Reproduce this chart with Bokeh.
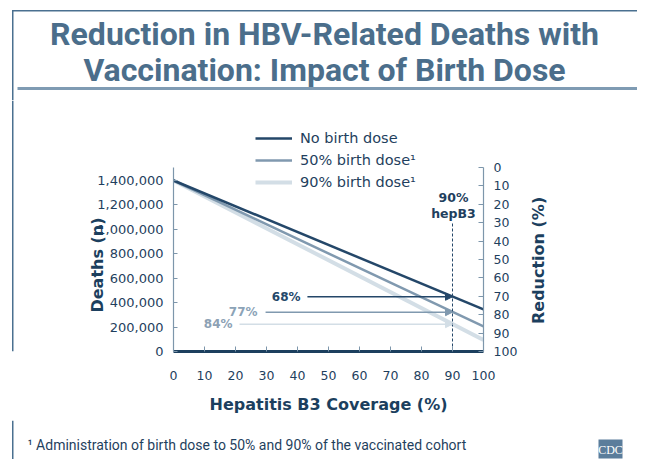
from bokeh.plotting import figure
from bokeh.layouts import column, row
from bokeh.models import (Range1d, LinearAxis, FixedTicker, NumeralTickFormatter, Label,
                          Legend, LegendItem, Arrow, NormalHead, BoxAnnotation, Span)
from bokeh.embed import file_html
from bokeh.resources import INLINE

# ---------------- data ----------------
coverage = [0, 100]                       # Hepatitis B3 coverage (%)
deaths_no_birth = [1400000, 345000]
deaths_50_birth = [1400000, 205000]
deaths_90_birth = [1400000, 95000]
series_labels = ["No birth dose", "50% birth dose\u00b9", "90% birth dose\u00b9"]
reduction_at_90 = [68, 77, 84]            # % reduction at 90% hepB3
reduction_labels = ["68%", "77%", "84%"]
marked_coverage = 90
x_ticks = [0, 10, 20, 30, 40, 50, 60, 70, 80, 90, 100]
death_ticks = [0, 200000, 400000, 600000, 800000, 1000000, 1200000, 1400000]
reduction_ticks = [0, 10, 20, 30, 40, 50, 60, 70, 80, 90, 100]
baseline = deaths_no_birth[0]
title_lines = ["Reduction in HBV-Related Deaths with", "Vaccination: Impact of Birth Dose"]
footnote = "\u00b9 Administration of birth dose to 50% and 90% of the vaccinated cohort"

DARK = "#244769"
MED = "#8099af"
LIGHT = "#d3dee6"
TEXT = "#1f3f5e"
AXIS = "#7d96ab"
TITLE = "#4b6e8b"
BORDER = "#4a7090"
RULE = "#7f9bb3"

W = 637
HEAD_H = 100
MID_H = 320
FOOT_H = 459 - HEAD_H - MID_H
LEFT_W = 80
RIGHT_W = 107
MAIN_W = W - LEFT_W - RIGHT_W


def deco_fig(w, h, x0, y0):
    f = figure(width=w, height=h, x_range=Range1d(x0, x0 + w), y_range=Range1d(y0 + h, y0),
               output_backend="svg", toolbar_location=None,
               x_axis_location=None, y_axis_location=None,
               min_border=0, min_border_left=0, min_border_right=0,
               min_border_top=0, min_border_bottom=0)
    f.title = None
    f.outline_line_color = None
    f.grid.visible = False
    f.background_fill_color = "white"
    f.border_fill_color = "white"
    return f


def bar(f, l, r, t, b, c):
    f.add_layout(BoxAnnotation(left=l, right=r, top=t, bottom=b, fill_color=c,
                               fill_alpha=1, line_color=None))


# ---------------- header ----------------
head = deco_fig(W, HEAD_H, 0, 0)
bar(head, 12, W, 9.5, 11, BORDER)
bar(head, 11.5, 13, 9.5, HEAD_H, BORDER)
bar(head, 17, W, 86.5, 89.5, RULE)
for txt, yc in zip(title_lines, [33.5, 69]):
    head.add_layout(Label(x=324, y=yc, text=txt, text_align="center",
                          text_baseline="middle", text_font="Roboto",
                          text_font_style="bold", text_font_size="32px", text_color=TITLE))

# ---------------- left strip ----------------
lstrip = deco_fig(LEFT_W, MID_H, 0, HEAD_H)
lstrip.add_layout(Span(location=12.25, dimension="height", line_color=BORDER, line_width=1.5))

# ---------------- right strip ----------------
rstrip = deco_fig(RIGHT_W, MID_H, LEFT_W + MAIN_W, HEAD_H)
rstrip.add_layout(Label(x=538, y=385, text="Reduction (%)", angle=1.5708,
                        text_align="left", text_baseline="middle", text_font="DejaVu Sans",
                        text_font_style="bold", text_font_size="16px", text_color="#1c3f5e"))

# ---------------- main chart ----------------
FRAME_H = 351 - HEAD_H
PX_PER_DEATH = 171 / 1400000
AX_PX = 184
y_top = FRAME_H / PX_PER_DEATH
axis_top = AX_PX / PX_PER_DEATH
r_top = -(FRAME_H - AX_PX) / AX_PX * 100

p = figure(width=MAIN_W, height=MID_H, x_range=Range1d(0, 100), y_range=Range1d(0, y_top),
           output_backend="svg", toolbar_location=None,
           min_border_left=173 - LEFT_W, min_border_right=LEFT_W + MAIN_W - 483,
           min_border_top=0, min_border_bottom=MID_H - FRAME_H)
p.title = None
p.outline_line_color = None
p.xgrid.visible = False
p.ygrid.visible = False
p.background_fill_color = "white"
p.border_fill_color = "white"

xa = p.xaxis[0]
xa.ticker = FixedTicker(ticks=x_ticks)
xa.axis_line_color = "#1c3f5e"
xa.axis_line_width = 3
xa.major_tick_line_color = AXIS
xa.major_tick_in = 5
xa.major_tick_out = 0
xa.minor_tick_line_color = None
xa.major_label_text_font = "DejaVu Sans"
xa.major_label_text_font_size = "12.5px"
xa.major_label_text_color = TEXT
xa.major_label_standoff = 19
xa.axis_label = "Hepatitis B3 Coverage (%)"
xa.axis_label_text_font = "DejaVu Sans"
xa.axis_label_text_font_style = "bold"
xa.axis_label_text_font_size = "16px"
xa.axis_label_text_color = "#1c3f5e"
xa.axis_label_standoff = 12

ya = p.yaxis[0]
ya.ticker = FixedTicker(ticks=death_ticks)
ya.formatter = NumeralTickFormatter(format="0,0")
ya.bounds = (0, axis_top)
ya.axis_line_color = AXIS
ya.axis_line_width = 1.2
ya.major_tick_line_color = AXIS
ya.major_tick_in = 4
ya.major_tick_out = 0
ya.minor_tick_line_color = None
ya.major_label_text_font = "DejaVu Sans"
ya.major_label_text_font_size = "13px"
ya.major_label_text_color = TEXT
ya.major_label_standoff = 10
# trailing no-break spaces move the (bottom-to-top) title down to the axis' middle
ya.axis_label = "Deaths (n)" + "\u00a0" * 14
ya.axis_label_text_font = "DejaVu Sans"
ya.axis_label_text_font_style = "bold"
ya.axis_label_text_font_size = "16px"
ya.axis_label_text_color = "#1c3f5e"
ya.axis_label_standoff = -13

p.extra_y_ranges = {"reduction": Range1d(100, r_top)}
ra = LinearAxis(y_range_name="reduction", ticker=FixedTicker(ticks=reduction_ticks),
                bounds=(0, 100))
ra.axis_line_color = AXIS
ra.axis_line_width = 1.2
ra.major_tick_line_color = AXIS
ra.major_tick_in = 5
ra.major_tick_out = 0
ra.minor_tick_line_color = None
ra.major_label_text_font = "DejaVu Sans"
ra.major_label_text_font_size = "12.5px"
ra.major_label_text_color = TEXT
ra.major_label_standoff = 10
p.add_layout(ra, "right")

r3 = p.line(coverage, deaths_90_birth, line_color=LIGHT, line_width=4)
r2 = p.line(coverage, deaths_50_birth, line_color=MED, line_width=2.5)
r1 = p.line(coverage, deaths_no_birth, line_color=DARK, line_width=2.5)

p.segment(x0=[marked_coverage], y0=[0], x1=[marked_coverage], y1=[1048000],
          line_color=DARK, line_width=1, line_dash="3 2")

legend = Legend(items=[LegendItem(label=series_labels[0], renderers=[r1]),
                       LegendItem(label=series_labels[1], renderers=[r2]),
                       LegendItem(label=series_labels[2], renderers=[r3])],
                location=(82, 159), glyph_width=37, glyph_height=20, label_height=20,
                spacing=2, padding=0, margin=0, border_line_color=None,
                background_fill_alpha=0, label_text_font="DejaVu Sans",
                label_text_font_size="14.5px", label_text_color=TEXT, label_standoff=8)
p.add_layout(legend)

arrow_starts = [43.2, 29.7, 21.3]
label_right = [127, 84, 59]
arrow_colors = [DARK, MED, LIGHT]
text_colors = [DARK, "#8ca3b7", "#8ca1b4"]
for r, lab, xs, lr, ac, tc in zip(reduction_at_90, reduction_labels, arrow_starts,
                                  label_right, arrow_colors, text_colors):
    yv = baseline * (1 - r / 100)
    p.add_layout(Arrow(x_start=xs, y_start=yv, x_end=marked_coverage, y_end=yv,
                       line_color=ac, line_width=1.5,
                       end=NormalHead(size=7, fill_color=ac, line_color=ac)))
    p.add_layout(Label(x=lr, y=yv, x_units="screen", text=lab, text_align="right",
                       text_baseline="middle", text_font="DejaVu Sans", text_font_style="bold",
                       text_font_size="12px", text_color=tc))

for txt, yy in [("90%", 154), ("hepB3", 138)]:
    p.add_layout(Label(x=280, y=yy, x_units="screen", y_units="screen", text=txt,
                       text_align="center", text_baseline="middle", text_font="DejaVu Sans",
                       text_font_style="bold", text_font_size="12.5px", text_color=TEXT))

# ---------------- footer ----------------
FOOT_Y0 = HEAD_H + MID_H
foot = deco_fig(W, FOOT_H, 0, FOOT_Y0)
foot.add_layout(Span(location=12.25, dimension="height", line_color=BORDER, line_width=1.5))
foot.add_layout(Label(x=27, y=444, text=footnote, text_align="left",
                      text_baseline="middle", text_font="Roboto",
                      text_font_size="14px", text_color=TEXT))
bar(foot, 598, 622, 439, 458, "#5b7d9b")
foot.add_layout(Label(x=610, y=449, text="CDC", text_align="center", text_baseline="middle",
                      text_font="Liberation Serif", text_font_size="12px", text_color="white"))

layout = column(head, row(lstrip, p, rstrip), foot)
open("out.html", "w").write(file_html(layout, INLINE))
